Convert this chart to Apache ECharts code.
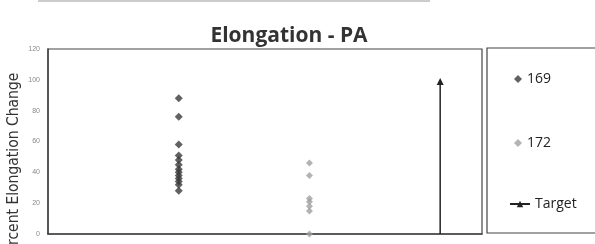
<!DOCTYPE html>
<html>
<head>
<meta charset="utf-8">
<script src="https://cdn.jsdelivr.net/npm/echarts@6/dist/echarts.min.js"></script>
<style>
  html, body { margin: 0; padding: 0; background: #fff; }
  #chart { width: 595px; height: 244px; }
</style>
</head>
<body>
<div id="chart"></div>
<script>
// valeurs
const seriesNames = ['169', '172', 'Target'];
const xPos169 = 1;
const values169 = [88, 76, 58, 51, 48, 45, 42, 40, 38, 36, 34, 32, 28];
const xPos172 = 2;
const values172 = [46, 38, 23, 21, 18, 15, 0];
const targetX = 3;
const targetRange = [0, 99];
const yTicks = [0, 20, 40, 60, 80, 100, 120];

let chart = echarts.init(document.getElementById('chart'));

let legendText = { fontFamily: 'Open Sans', fontSize: 14, color: '#222' };

let option = {
    backgroundColor: '#fff',
    animation: false,
    title: {
        text: 'Elongation - PA',
        left: 284,
        textAlign: 'center',
        top: 21,
        textStyle: { fontFamily: 'Open Sans', fontWeight: 'bold', fontSize: 21, color: '#333' }
    },
    graphic: [
        {
            type: 'line',
            shape: { x1: 38, y1: 1, x2: 430, y2: 1 },
            style: { stroke: '#999', lineWidth: 1 }
        },
        {
            type: 'text',
            x: 14,
            y: 167,
            rotation: Math.PI / 2,
            style: {
                text: 'Percent Elongation Change',
                font: '15.5px "DejaVu Sans Condensed", "Liberation Sans", sans-serif',
                fill: '#333',
                align: 'center',
                verticalAlign: 'middle'
            }
        },
        {
            type: 'rect',
            shape: { x: 487, y: 48, width: 110, height: 185 },
            style: { fill: 'none', stroke: '#444', lineWidth: 1.2 }
        }
    ],
    legend: [
        {
            orient: 'vertical',
            left: 509,
            top: 67,
            itemGap: 50,
            itemWidth: 8,
            itemHeight: 8,
            data: ['169', '172'],
            textStyle: legendText
        },
        {
            orient: 'vertical',
            left: 504,
            top: 192,
            itemWidth: 20,
            itemHeight: 8,
            itemGap: 4,
            data: ['Target'],
            textStyle: legendText
        }
    ],
    grid: {
        left: 48,
        right: 113,
        top: 49,
        bottom: 10,
        show: true,
        borderColor: '#444',
        borderWidth: 1.2,
        containLabel: false
    },
    xAxis: {
        type: 'value',
        min: 0,
        max: 3.32,
        axisLabel: { show: false },
        axisTick: { show: false },
        splitLine: { show: false },
        axisLine: { lineStyle: { color: '#444', width: 1.5 } }
    },
    yAxis: {
        type: 'value',
        min: 0,
        max: 120,
        interval: 20,
        axisLabel: {
            fontSize: 7,
            color: '#888',
            margin: 8,
            customValues: yTicks
        },
        axisTick: { show: false },
        splitLine: { show: false },
        axisLine: { show: true, lineStyle: { color: '#444', width: 1.5 } }
    },
    series: [
        {
            name: '169',
            type: 'scatter',
            symbol: 'diamond',
            symbolSize: 8,
            itemStyle: { color: '#3a3a3a' },
            data: values169.map(v => [xPos169, v])
        },
        {
            name: '172',
            type: 'scatter',
            symbol: 'diamond',
            symbolSize: 7,
            itemStyle: { color: '#a0a0a0' },
            data: values172.map(v => [xPos172, v])
        },
        {
            name: 'Target',
            type: 'line',
            symbol: 'triangle',
            symbolSize: 7,
            lineStyle: { color: '#222', width: 1.5 },
            itemStyle: { color: '#222' },
            data: [
                { value: [targetX, targetRange[0]], symbol: 'none' },
                { value: [targetX, targetRange[1]], symbol: 'triangle' }
            ]
        }
    ]
};

chart.setOption(option);
</script>
</body>
</html>
